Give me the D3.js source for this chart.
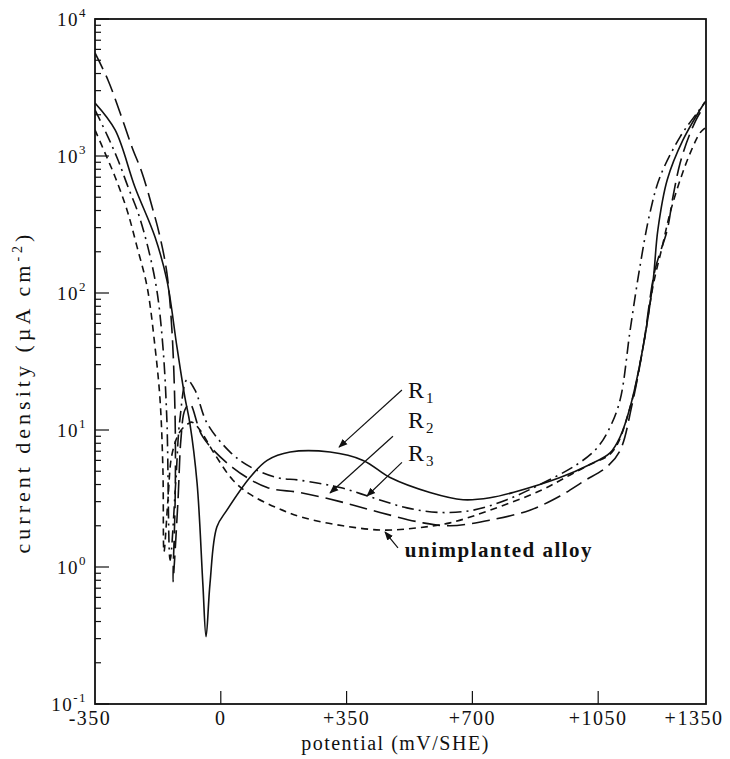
<!DOCTYPE html>
<html>
<head>
<meta charset="utf-8">
<script src="https://cdn.jsdelivr.net/npm/d3@7"></script>
<style>
  body { margin: 0; background: #fff; }
  text { font-family: "Liberation Serif", "DejaVu Serif", serif; fill: #111; }
</style>
</head>
<body>
<div id="chart"></div>
<script>
// potentiodynamic polarisation curves
// potential in mV/SHE, current density in uA cm-2

var r1_E = [-350, -294, -239, -183, -150, -122, -100, -86, -66, -50, -41, -30, -11, 17, 81, 129, 193, 304, 396, 471, 582, 674, 749, 813, 944, 1027, 1083, 1111, 1139, 1175, 1203, 1216, 1242, 1286, 1347];
var r1_i = [2440, 1550, 594, 256, 124, 40.4, 17.4, 11.2, 4.1, 0.76, 0.31, 0.76, 1.96, 2.6, 4.5, 6.0, 6.9, 6.9, 6.0, 4.5, 3.5, 3.1, 3.2, 3.5, 4.5, 5.6, 6.8, 8.9, 14.7, 40.4, 124, 288, 668, 1310, 2480];

var r2_E = [-350, -314, -286, -258, -230, -203, -178, -161, -150, -141, -125, -114, -94, -72, -38, 26, 81, 156, 220, 332, 424, 518, 610, 702, 796, 888, 991, 1047, 1083, 1111, 1139, 1166, 1194, 1222, 1278, 1325, 1350];
var r2_i = [2170, 1380, 935, 594, 384, 217, 105, 40.4, 11.8, 1.12, 4.3, 11.8, 23.2, 19.6, 11.2, 6.9, 5.4, 4.5, 4.3, 3.8, 3.2, 2.7, 2.5, 2.6, 3.1, 4.0, 5.6, 7.4, 10.5, 16.6, 53.7, 155, 384, 703, 1380, 2060, 2520];

var r3_E = [-350, -314, -280, -247, -219, -191, -169, -150, -136, -127, -127, -133, -119, -111, -100, -86, -50, 34, 129, 220, 332, 443, 563, 638, 749, 860, 944, 1008, 1075, 1111, 1144, 1175, 1208, 1242, 1258, 1278, 1306, 1333, 1347];
var r3_i = [5650, 3590, 2060, 1160, 752, 425, 256, 140, 53.7, 11.8, 3.1, 0.78, 3.1, 8.5, 14, 15.5, 8.9, 5.3, 3.8, 3.5, 3.0, 2.5, 2.1, 2.0, 2.2, 2.6, 3.3, 4.2, 5.4, 7.1, 15.2, 40.4, 147, 288, 502, 889, 1470, 2060, 2280];

var un_E = [-350, -322, -294, -261, -233, -205, -183, -169, -161, -158, -147, -136, -114, -91, -80, -58, -16, 34, 81, 156, 229, 340, 451, 546, 638, 749, 888, 972, 1027, 1089, 1139, 1175, 1203, 1228, 1250, 1278, 1306, 1333, 1347];
var un_i = [1550, 1050, 703, 404, 217, 111, 40.4, 16.6, 5.1, 1.29, 3.1, 6.6, 9.7, 11.1, 11.4, 10, 6.6, 4.3, 3.4, 2.7, 2.3, 2.0, 1.86, 1.93, 2.1, 2.6, 3.6, 4.7, 5.6, 6.9, 14.7, 40.4, 114, 217, 384, 668, 1050, 1470, 1600];

var x_ticks = [-350, 0, 350, 700, 1050, 1350];
var x_tick_labels = ["-350", "0", "+350", "+700", "+1050", "+1350"];
var y_decades = [-1, 0, 1, 2, 3, 4];

// annotation text anchors + arrows, in data units [E, i]
var labels = [
  {name: "R", sub: "1", at: [521, 17.1], from: [504, 19.6], to: [329, 7.5]},
  {name: "R", sub: "2", at: [521, 10.4], from: [479, 9.0], to: [304, 3.47]},
  {name: "R", sub: "3", at: [521, 5.9], from: [504, 5.8], to: [407, 3.3]},
  {name: "unimplanted alloy", sub: "", at: [512, 1.18], from: [493, 1.38], to: [457, 1.8]}
];

var W = 730, H = 759;
var margin = {top: 19, right: 24, bottom: 55, left: 95};
var width = W - margin.left - margin.right;
var height = H - margin.top - margin.bottom;

var svg = d3.select("#chart").append("svg")
    .attr("width", W)
    .attr("height", H);

var xScale = d3.scaleLinear().domain([-350, 1350]).range([margin.left, margin.left + width]);
var yScale = d3.scaleLog().domain([0.1, 10000]).range([margin.top + height, margin.top]);

svg.append("defs").append("clipPath").attr("id", "plot")
  .append("rect")
    .attr("x", margin.left).attr("y", margin.top)
    .attr("width", width).attr("height", height);

svg.select("defs").append("marker")
    .attr("id", "arrow")
    .attr("viewBox", "0 0 10 10")
    .attr("refX", 9).attr("refY", 5)
    .attr("markerWidth", 9).attr("markerHeight", 9)
    .attr("markerUnits", "userSpaceOnUse")
    .attr("orient", "auto")
  .append("path")
    .attr("d", "M0,1 L10,5 L0,9 Z")
    .attr("fill", "#111");

var series = [
  {E: r1_E, i: r1_i, dash: null},
  {E: r2_E, i: r2_i, dash: "12,5,2,5"},
  {E: r3_E, i: r3_i, dash: "18,7"},
  {E: un_E, i: un_i, dash: "7,5"}
];

var line = d3.line()
    .x(function(d) { return xScale(d[0]); })
    .y(function(d) { return yScale(d[1]); })
    .curve(d3.curveCatmullRom.alpha(0.5));

svg.append("g").attr("clip-path", "url(#plot)")
  .selectAll("path")
  .data(series)
  .enter()
  .append("path")
    .attr("d", function(s) { return line(s.E.map(function(e, k) { return [e, s.i[k]]; })); })
    .attr("fill", "none")
    .attr("stroke", "#111")
    .attr("stroke-width", 1.6)
    .attr("stroke-dasharray", function(s) { return s.dash; });

// frame
svg.append("rect")
    .attr("x", margin.left).attr("y", margin.top)
    .attr("width", width).attr("height", height)
    .attr("fill", "none")
    .attr("stroke", "#111")
    .attr("stroke-width", 1.8);

// y axis: major + minor ticks pointing inside
var yTicks = [];
y_decades.forEach(function(p) {
  for (var m = 1; m < 10; m++) {
    var v = m * Math.pow(10, p);
    if (v <= 10000) yTicks.push({v: v, major: m == 1});
  }
});

svg.append("g").selectAll("line")
  .data(yTicks)
  .enter()
  .append("line")
    .attr("x1", margin.left)
    .attr("x2", function(d) { return margin.left + (d.major ? 14 : 6); })
    .attr("y1", function(d) { return yScale(d.v); })
    .attr("y2", function(d) { return yScale(d.v); })
    .attr("stroke", "#111")
    .attr("stroke-width", 1.2);

var yLab = svg.append("g").selectAll("text")
  .data(y_decades)
  .enter()
  .append("text")
    .attr("x", 87)
    .attr("y", function(d) { return yScale(Math.pow(10, d)) + 7; })
    .attr("text-anchor", "end")
    .attr("font-size", 19)
    .attr("letter-spacing", 1.5);
yLab.append("tspan").text("10");
yLab.append("tspan")
    .attr("dy", -9)
    .attr("font-size", 13)
    .text(function(d) { return d; });

// x axis ticks
svg.append("g").selectAll("line")
  .data(x_ticks.slice(1, -1))
  .enter()
  .append("line")
    .attr("x1", function(d) { return xScale(d); })
    .attr("x2", function(d) { return xScale(d); })
    .attr("y1", margin.top + height)
    .attr("y2", margin.top + height - 13)
    .attr("stroke", "#111")
    .attr("stroke-width", 1.2);

svg.append("g").selectAll("text")
  .data(x_ticks)
  .enter()
  .append("text")
    .attr("x", function(d, k) { return xScale(d) + (k == 0 ? -5 : k == x_ticks.length - 1 ? -12 : 0); })
    .attr("y", margin.top + height + 21)
    .attr("text-anchor", "middle")
    .attr("font-size", 20)
    .attr("letter-spacing", 1.5)
    .text(function(d, k) { return x_tick_labels[k]; });

// axis titles
svg.append("text")
    .attr("x", margin.left + width / 2 - 5)
    .attr("y", H - 9)
    .attr("text-anchor", "middle")
    .attr("font-size", 20)
    .attr("letter-spacing", 1.5)
    .text("potential (mV/SHE)");

var yTitle = svg.append("text")
    .attr("transform", "translate(30," + 392 + ")rotate(-90)")
    .attr("text-anchor", "middle")
    .attr("font-size", 22)
    .attr("letter-spacing", 4);
yTitle.append("tspan").text("current density (\u00b5A cm");
yTitle.append("tspan").attr("dy", -8).attr("font-size", 14).text("-2");
yTitle.append("tspan").attr("dy", 8).text(")");

// curve labels with arrows
svg.append("g").selectAll("line")
  .data(labels)
  .enter()
  .append("line")
    .attr("x1", function(d) { return xScale(d.from[0]); })
    .attr("y1", function(d) { return yScale(d.from[1]); })
    .attr("x2", function(d) { return xScale(d.to[0]); })
    .attr("y2", function(d) { return yScale(d.to[1]); })
    .attr("stroke", "#111")
    .attr("stroke-width", 1.2)
    .attr("marker-end", "url(#arrow)");

var lab = svg.append("g").selectAll("text")
  .data(labels)
  .enter()
  .append("text")
    .attr("x", function(d) { return xScale(d.at[0]); })
    .attr("y", function(d) { return yScale(d.at[1]); })
    .attr("font-size", function(d) { return d.sub ? 24 : 21; })
    .attr("letter-spacing", function(d) { return d.sub ? 0 : 1.5; })
    .attr("font-weight", function(d) { return d.sub ? null : "bold"; });
lab.append("tspan").text(function(d) { return d.name; });
lab.append("tspan")
    .attr("dy", 5)
    .attr("dx", 2)
    .attr("font-size", 15)
    .text(function(d) { return d.sub; });
</script>
</body>
</html>
